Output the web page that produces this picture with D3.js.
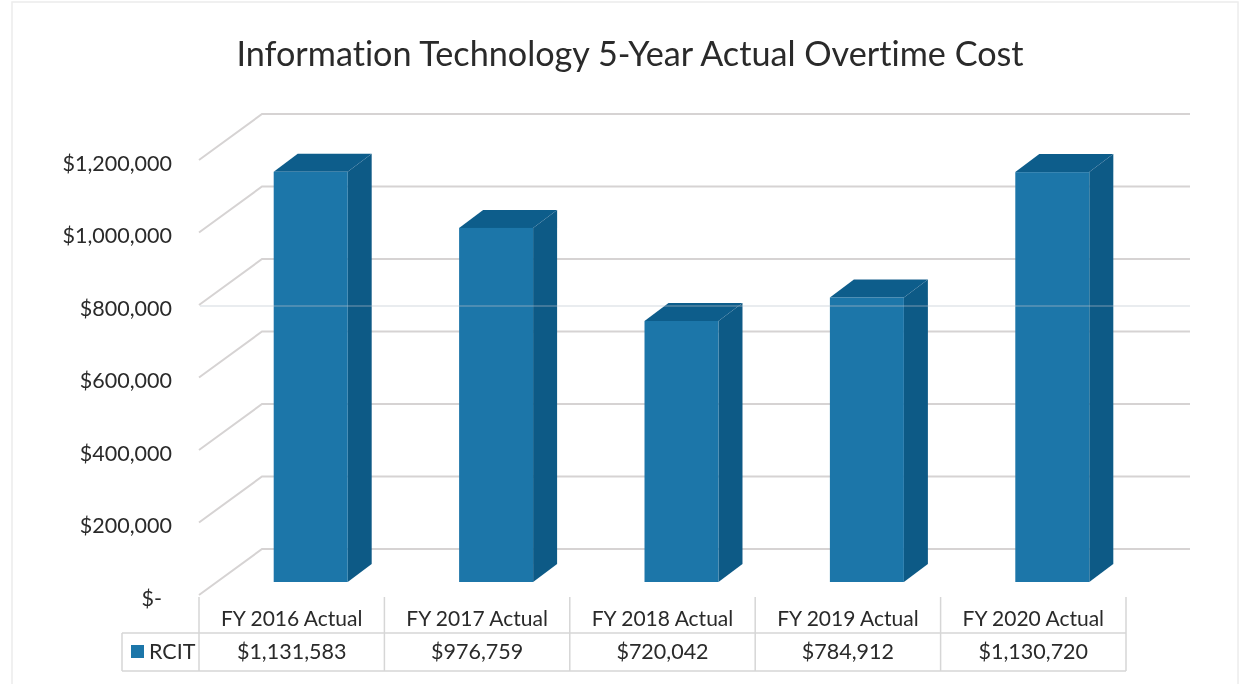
<!DOCTYPE html>
<html><head><meta charset="utf-8">
<script src="https://cdnjs.cloudflare.com/ajax/libs/d3/7.8.5/d3.min.js"></script>
<style>html,body{margin:0;padding:0;background:#fff}svg{display:block}text{font-family:Lato,"Open Sans",sans-serif;fill:#2a2a2a;font-variant-ligatures:none}</style>
</head><body><svg id="c" width="1248" height="684"></svg>
<script>
const title = "Information Technology 5-Year Actual Overtime Cost";
const categories = ["FY 2016 Actual","FY 2017 Actual","FY 2018 Actual","FY 2019 Actual","FY 2020 Actual"];
const seriesName = "RCIT";
const values = [1131583,976759,720042,784912,1130720];
const tickValues = [0,200000,400000,600000,800000,1000000,1200000];
const fmtMoney = d => d === 0 ? "$-" : "$" + d3.format(",")(d);

const svg = d3.select("#c");
const root = svg.append("g").attr("filter","url(#soft)");
const defs = svg.append("defs");
defs.append("filter").attr("id","soft").append("feGaussianBlur").attr("stdDeviation",0.5);

const plotLeft = 199, plotRight = 1126, depthX = 63, depthY = 46;
const y = d3.scaleLinear().domain([0,1200000]).range([595,160]);
const x = d3.scaleBand().domain(categories).range([plotLeft,plotRight]).paddingInner(0).paddingOuter(0);
const barW = 74, barDepthX = 24, barDepthY = 18, barLift = 13, barShift = 19;

// outer frame
root.append("rect").attr("x",12).attr("y",2).attr("width",1226).attr("height",690)
  .attr("fill","none").attr("stroke","#ececec").attr("stroke-width",1.5);

root.append("text").attr("x",630).attr("y",66).attr("text-anchor","middle")
  .attr("font-size",34.2).text(title);

// gridlines on back wall and side wall
const grid = root.append("g");
tickValues.forEach(t => {
  grid.append("polyline")
    .attr("points",[[plotLeft,y(t)],[plotLeft+depthX,y(t)-depthY],[1190,y(t)-depthY]].map(p=>p.join(",")).join(" "))
    .attr("fill","none").attr("stroke","#d6d3d3").attr("stroke-width",2);
});

// y axis labels
const axisG = root.append("g").attr("transform","translate(172,0)")
  .call(d3.axisLeft(y).tickValues(tickValues).tickFormat(fmtMoney).tickSize(0).tickPadding(0));
axisG.select(".domain").remove();
axisG.selectAll("text").attr("font-size",21.5).attr("font-family","Lato,'Open Sans',sans-serif").attr("fill","#2a2a2a").attr("dy","0.48em");
axisG.selectAll(".tick").filter(d=>d===0).select("text").attr("dx",-10);

// bars
const bars = root.append("g").selectAll("g").data(values).join("g");
const bx = (d,i) => x(categories[i]) + (x.bandwidth()-barW)/2 + barShift;
const bb = y(0) - barLift;
const bt = d => y(d) - barLift;
bars.append("polygon").attr("fill","#0f5a86")
  .attr("points",(d,i)=>{const X=bx(d,i)+barW;return [[X,bt(d)],[X+barDepthX,bt(d)-barDepthY],[X+barDepthX,bb-barDepthY],[X,bb]].join(" ")});
bars.append("polygon").attr("fill","#115d8b")
  .attr("points",(d,i)=>{const X=bx(d,i);return [[X,bt(d)],[X+barDepthX,bt(d)-barDepthY],[X+barW+barDepthX,bt(d)-barDepthY],[X+barW,bt(d)]].join(" ")});
bars.append("rect").attr("fill","#1f76a9")
  .attr("x",(d,i)=>bx(d,i)).attr("y",d=>bt(d)).attr("width",barW).attr("height",d=>bb-bt(d));

// faint scanner streak
root.append("line").attr("x1",200).attr("x2",1190).attr("y1",306).attr("y2",306)
  .attr("stroke","#b9c4cc").attr("stroke-width",1.2).attr("opacity",.6);

// data table
const tTop = 597, tMid = 633, tBot = 671, tLeft = 122;
const tbl = root.append("g").attr("stroke","#d6d6d6").attr("stroke-width",1.5);
[[tLeft,tMid,plotRight,tMid],[tLeft,tBot,plotRight,tBot],[tLeft,tMid,tLeft,tBot]].forEach(l=>
  tbl.append("line").attr("x1",l[0]).attr("y1",l[1]).attr("x2",l[2]).attr("y2",l[3]));
[...categories.map(c=>x(c)),plotRight].forEach(X=>
  tbl.append("line").attr("x1",X).attr("x2",X).attr("y1",tTop).attr("y2",tBot));
categories.forEach((c,i)=>{
  const cx = x(c)+x.bandwidth()/2;
  root.append("text").attr("x",cx).attr("y",626).attr("text-anchor","middle").attr("font-size",21).text(c);
  root.append("text").attr("x",cx).attr("y",659).attr("text-anchor","middle").attr("font-size",21.5).text(fmtMoney(values[i]));
});
root.append("rect").attr("x",131).attr("y",645).attr("width",13).attr("height",13).attr("fill","#1f76a9");
root.append("text").attr("x",149).attr("y",659).attr("font-size",21.5).text(seriesName);
</script></body></html>
